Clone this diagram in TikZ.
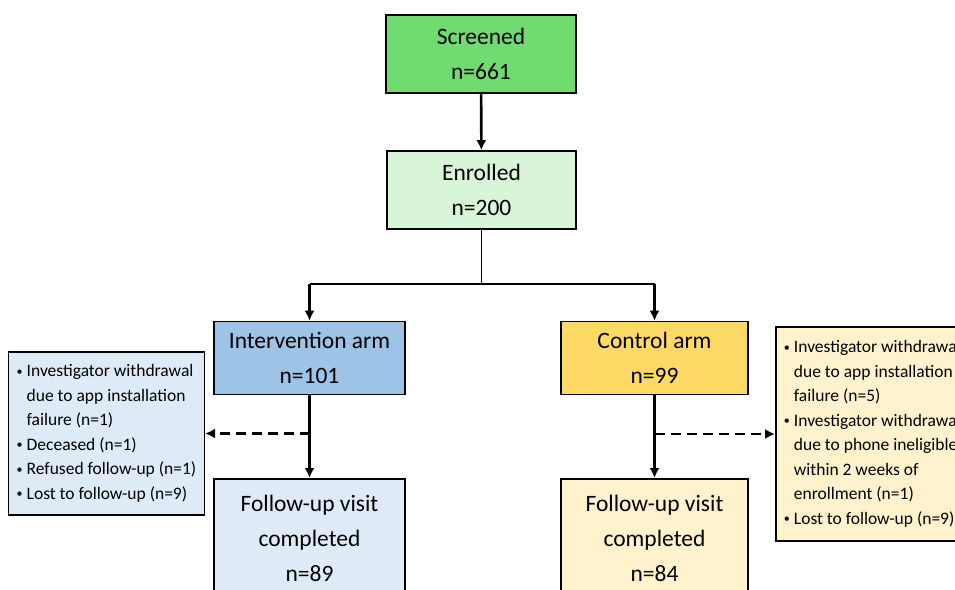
\documentclass[tikz,border=0pt]{standalone}
\usepackage{fontspec}
\setmainfont{Carlito}
\usepackage{xcolor}
\usetikzlibrary{positioning,arrows.meta}

\definecolor{scrgreen}{RGB}{112,219,112}
\definecolor{enrgreen}{RGB}{217,245,217}
\definecolor{intblue}{RGB}{157,195,230}
\definecolor{palblue}{RGB}{222,235,247}
\definecolor{ctlgold}{RGB}{255,217,102}
\definecolor{palgold}{RGB}{255,242,204}

\newcommand{\bitem}{\makebox[10pt][l]{\raisebox{1.5pt}{\fontsize{12}{12}\selectfont\textbullet}}}
\newcommand{\bcont}{\hspace*{10pt}}

\begin{document}
\begin{tikzpicture}[
    x=1pt, y=-1pt,
    box/.style={rectangle, draw, line width=1.6pt, align=center,
                minimum width=190pt, minimum height=78pt,
                font=\fontsize{23.5}{35}\selectfont},
    note/.style={rectangle, draw, line width=1.6pt, align=left,
                 minimum width=193pt, inner xsep=8pt,
                 font=\fontsize{17.5}{24.5}\selectfont},
    arrow/.style={-{Latex[length=10pt,width=10pt]}, line width=2.6pt},
    side/.style={-{Latex[length=10pt,width=10pt]}, line width=2.6pt,
                 dash pattern=on 10pt off 6pt},
    link/.style={line width=1.6pt},
  ]
    \clip (0,0) rectangle (955,589);

    \node[box, fill=scrgreen] (scr) at (481,54) {Screened\\n=661};
    \node[box, fill=enrgreen, minimum width=189pt] (enr) at (481.5,190) {Enrolled\\n=200};
    \node[box, fill=intblue, minimum width=191pt, minimum height=73pt] (iarm) at (309.5,358) {Intervention arm\\n=101};
    \node[box, fill=ctlgold, minimum width=187pt, minimum height=73pt] (carm) at (654.5,358) {Control arm\\n=99};
    \node[box, fill=palblue, minimum width=191pt, anchor=north, inner ysep=16pt, text depth=40pt] (ifup) at (309.5,478) {Follow-up visit\\completed\\n=89};
    \node[box, fill=palgold, minimum width=187pt, anchor=north, inner ysep=16pt, text depth=40pt] (cfup) at (654.5,478) {Follow-up visit\\completed\\n=84};

    \node[note, fill=palblue, minimum height=163pt] (inote) at (106.5,433.5)
      {\bitem Investigator withdrawal\\\bcont due to app installation\\\bcont failure (n=1)\\\bitem Deceased (n=1)\\\bitem Refused follow-up (n=1)\\\bitem Lost to follow-up (n=9)};
    \node[note, fill=palgold, minimum height=214pt, anchor=west] (cnote) at (775,434)
      {\bitem Investigator withdrawal\\\bcont due to app installation\\\bcont failure (n=5)\\\bitem Investigator withdrawal\\\bcont due to phone ineligible\\\bcont within 2 weeks of\\\bcont enrollment (n=1)\\\bitem Lost to follow-up (n=9)};

    \coordinate[below=54pt of enr.south] (split);

    \draw[arrow] (scr) -- (enr);
    \draw[link] (enr.south) -- (split);
    \draw[link] (split -| iarm.north) -- (split -| carm.north);
    \draw[arrow] (split -| iarm.north) -- (iarm.north);
    \draw[arrow] (split -| carm.north) -- (carm.north);
    \draw[arrow] (iarm) -- (ifup);
    \draw[arrow] (carm) -- (cfup);
    \draw[side] (iarm.south |- inote.east) -- (inote.east);
    \draw[side] (carm.south |- cnote.west) -- (cnote.west);
  \end{tikzpicture}
\end{document}
